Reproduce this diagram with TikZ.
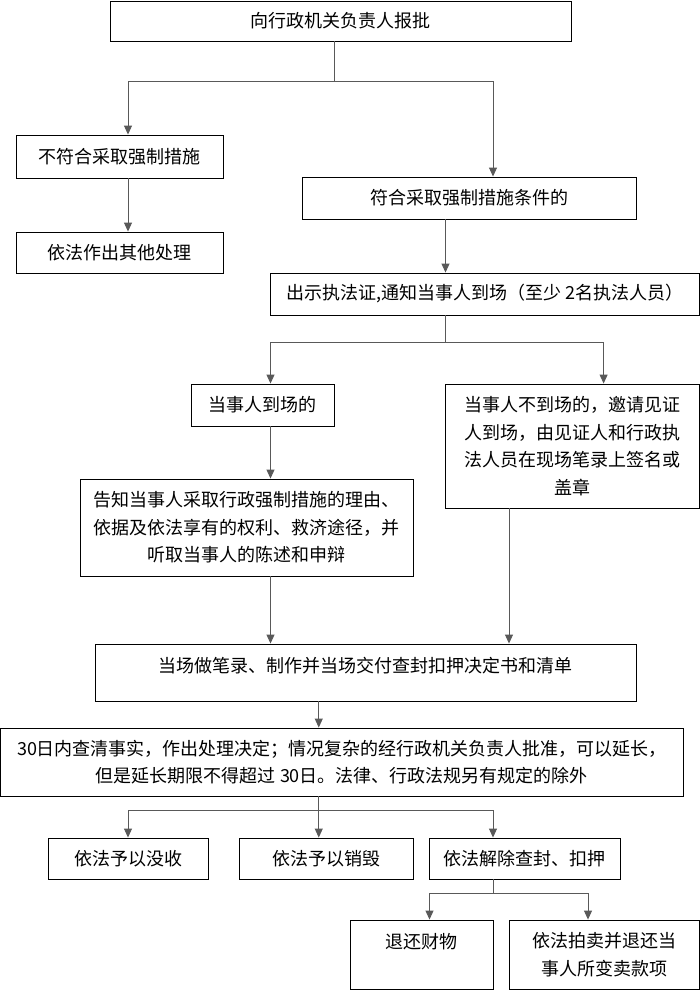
\documentclass[tikz,border=0pt]{standalone}
\usepackage{fontspec}
\newfontfamily\cjk{Noto Sans CJK SC}
\usetikzlibrary{arrows.meta}
\tikzset{
  box/.style={draw=black, line width=0.9pt, inner sep=0pt, align=center,
    font=\cjk\fontsize{18}{27.5}\selectfont},
  ln/.style={draw=black!65, line width=1pt},
  arr/.style={ln, -{Triangle[length=9pt,width=8pt]}},
}
\begin{document}
\begin{tikzpicture}[x=1pt,y=-1pt]
	\useasboundingbox (0,0) rectangle (700,990);

	%% boxes, top to bottom
	\node[box, minimum width=461pt, minimum height=40pt] (top) at (340.5,21) {向行政机关负责人报批};
	\node[box, minimum width=206.5pt, minimum height=43pt] (no) at (119.75,156.5) {不符合采取强制措施};
	\node[box, minimum width=334pt, minimum height=42pt] (yes) at (469,198) {符合采取强制措施条件的};
	\node[box, minimum width=206.5pt, minimum height=41pt] (other) at (119.75,252.5) {依法作出其他处理};
	\node[box, minimum width=428.5pt, minimum height=42pt] (show) at (484.75,294) {出示执法证,通知当事人到场（至少 2名执法人员）};

	\node[box, minimum width=143pt, minimum height=42pt] (here) at (262.5,405) {当事人到场的};
	\node[box, minimum width=253.5pt, minimum height=124pt] (absent) at (572.25,446)
		{当事人不到场的，邀请见证\\人到场，由见证人和行政执\\法人员在现场笔录上签名或\\盖章};
	\node[box, minimum width=333pt, minimum height=97pt] (inform) at (246.5,527.5)
		{告知当事人采取行政强制措施的理由、\\依据及依法享有的权利、救济途径，并\\听取当事人的陈述和申辩};

	\node[box, minimum width=540.5pt, minimum height=57pt, text height=28.8pt, text depth=28.2pt] (record) at (365.75,672.5)
		{当场做笔录、制作并当场交付查封扣押决定书和清单};
	\node[box, minimum width=683pt, minimum height=68pt] (check) at (342,762)
		{30日内查清事实，作出处理决定；情况复杂的经行政机关负责人批准，可以延长，\\但是延长期限不得超过 30日。法律、行政法规另有规定的除外};

	\node[box, minimum width=160pt, minimum height=41pt] (confis) at (128,858.5) {依法予以没收};
	\node[box, minimum width=174pt, minimum height=41pt] (destroy) at (326,858.5) {依法予以销毁};
	\node[box, minimum width=190.5pt, minimum height=41pt] (release) at (524.75,858.5) {依法解除查封、扣押};

	\node[box, minimum width=143pt, minimum height=69pt, text height=28.8pt, text depth=40.2pt] (ret) at (421.5,954.5) {退还财物};
	\node[box, minimum width=190pt, minimum height=69pt] (sell) at (604,954.5) {依法拍卖并退还当\\事人所变卖款项};

	%% connectors
	\draw[ln] ([xshift=-6.5pt]top.south) -- ++(0,40) coordinate (s1);
	\draw[arr] (s1) -| ([xshift=8.25pt]no.north);
	\draw[arr] (s1) -| ([xshift=24pt]yes.north);
	\draw[arr] ([xshift=8.25pt]no.south) -- ([xshift=8.25pt]other.north);
	\draw[arr] ([xshift=-23.5pt]yes.south) -- ([xshift=-23.5pt]yes.south |- show.north);

	\draw[ln] ([xshift=-39.25pt]show.south) -- ++(0,27) coordinate (s2);
	\draw[arr] (s2) -| ([xshift=8pt]here.north);
	\draw[arr] (s2) -| ([xshift=31.35pt]absent.north);
	\draw[arr] ([xshift=8pt]here.south) -- ([xshift=8pt]here.south |- inform.north);

	\draw[arr] ([xshift=24pt]inform.south) -- ([xshift=24pt]inform.south |- record.north);
	\draw[arr] ([xshift=-63.25pt]absent.south) -- ([xshift=-63.25pt]absent.south |- record.north);
	\draw[arr] ([xshift=-47pt]record.south) -- ([xshift=-47pt]record.south |- check.north);

	\draw[ln] ([xshift=-23.25pt]check.south) -- ++(0,14) coordinate (s3);
	\draw[arr] (s3) -| (confis.north);
	\draw[arr] (s3) -- (s3 |- destroy.north);
	\draw[arr] (s3) -| ([xshift=-31.75pt]release.north);

	\draw[ln] ([xshift=-31.75pt]release.south) -- ++(0,14) coordinate (s4);
	\draw[arr] (s4) -| ([xshift=8pt]ret.north);
	\draw[arr] (s4) -| ([xshift=-16pt]sell.north);
\end{tikzpicture}
\end{document}
